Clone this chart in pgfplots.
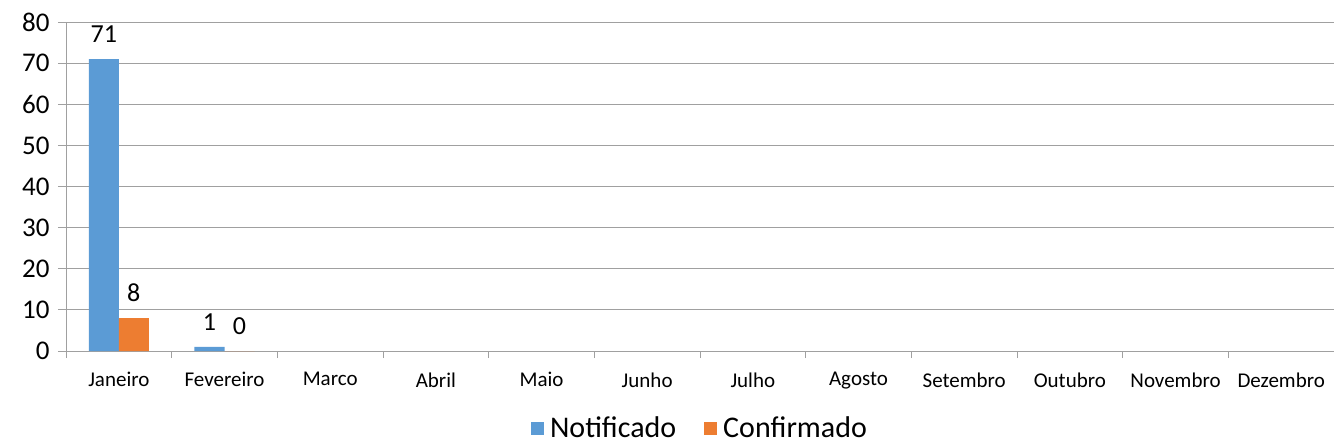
\documentclass[border=0pt]{standalone}
\usepackage{pgfplots}
\pgfplotsset{compat=1.18}
\usepackage{fontspec}
\setmainfont{Carlito}
\definecolor{cblue}{HTML}{5B9BD5}
\definecolor{corange}{HTML}{ED7D31}
\definecolor{cgrid}{HTML}{A0A0A0}
\begin{document}
\begin{tikzpicture}
\useasboundingbox (-66bp,-94bp) rectangle (1268bp,351bp);
\begin{axis}[
  at={(0,0)}, anchor=south west,
  scale only axis,
  width=1268bp, height=329bp,
  ybar=0pt, bar width=30bp,
  xmin=-0.5, xmax=11.5,
  ymin=0, ymax=80,
  ytick={0,10,...,80},
  xtick={0,...,11},
  xticklabels={Janeiro,Fevereiro,Marco,Abril,Maio,Junho,Julho,Agosto,Setembro,Outubro,Novembro,Dezembro},
  minor xtick={-0.5,0.5,...,11.5},
  axis x line*=bottom, axis y line*=left,
  axis line style={cgrid, line width=0.9bp},
  every tick/.style={cgrid, line width=0.9bp},
  tick align=outside,
  major tick length=8bp, minor tick length=7bp,
  x tick style={draw=none},
  minor x tick style={draw=cgrid, line width=0.9bp},
  ymajorgrids,
  major grid style={cgrid, line width=0.9bp},
  yticklabel style={font=\fontsize{27bp}{29bp}\selectfont, xshift=-5bp},
  xticklabel style={font=\fontsize{21bp}{23bp}\selectfont, yshift=-10bp},
  /pgf/number format/assume math mode=true,
  nodes near coords,
  every node near coord/.append style={font=\fontsize{26bp}{28bp}\selectfont, black, yshift=13bp},
  legend style={at={(0.5,-77bp)}, anchor=center, draw=none, legend columns=2,
    font=\fontsize{30bp}{32bp}\selectfont,
    /tikz/every even column/.append style={column sep=26bp}},
  legend image code/.code={\fill[#1] (0bp,-6.5bp) rectangle (13bp,6.5bp);},
  clip=false,
]
\addplot[fill=cblue, draw=none] coordinates {(0,71) (1,1)};
\addplot[fill=corange, draw=none] coordinates {(0,8) (1,0)};
\legend{\hspace{4bp}Notificado,\hspace{4bp}Confirmado}
\end{axis}
\end{tikzpicture}
\end{document}
